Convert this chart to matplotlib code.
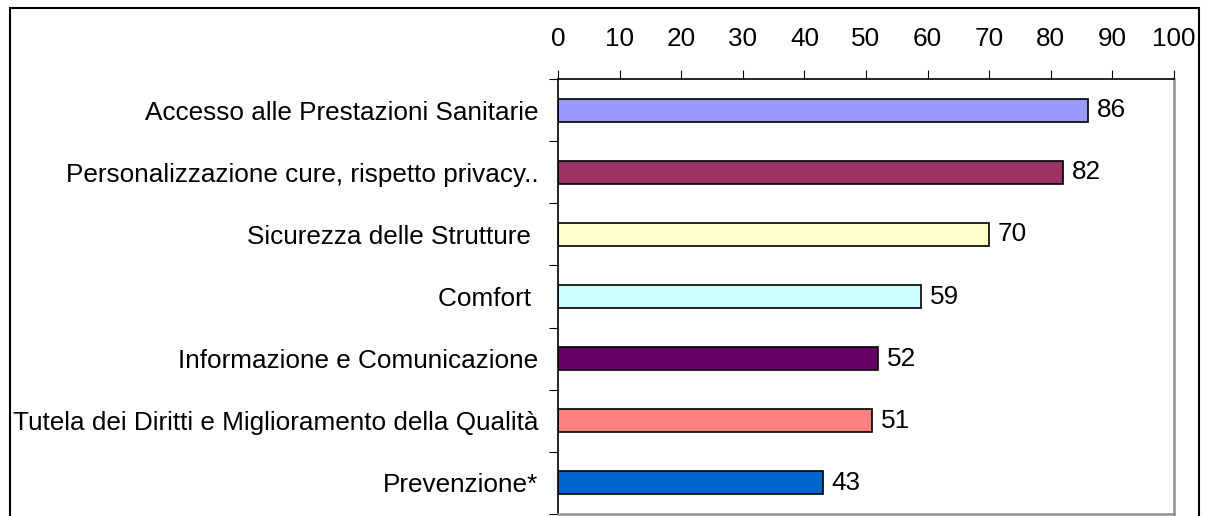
import matplotlib.pyplot as plt
from matplotlib.patches import Rectangle

categories = [
    "Accesso alle Prestazioni Sanitarie",
    "Personalizzazione cure, rispetto privacy..",
    "Sicurezza delle Strutture ",
    "Comfort ",
    "Informazione e Comunicazione",
    "Tutela dei Diritti e Miglioramento della Qualità",
    "Prevenzione*",
]
values = [86, 82, 70, 59, 52, 51, 43]
colors = ["#9999FF", "#993366", "#FFFFCC", "#CCFFFF", "#660066", "#FF8080", "#0066CC"]
xticks = list(range(0, 101, 10))

plt.rcParams['font.family'] = ['Liberation Sans', 'DejaVu Sans']
fs = 18.8

fig = plt.figure(figsize=(12.07, 5.16), dpi=100)
ax = fig.add_axes([558 / 1207, 1 - 514 / 516, (1174 - 558) / 1207, (514 - 79) / 516])

ypos = list(range(len(categories)))
ax.barh(ypos, values, height=0.37, color=colors, edgecolor='black', linewidth=1.2)
ax.set_ylim(len(categories) - 0.5, -0.5)
ax.set_xlim(0, 100)

for y, v in zip(ypos, values):
    ax.text(v + 1.4, y, str(v), va='center', ha='left', fontsize=fs)

# x axis on top
ax.xaxis.tick_top()
ax.set_xticks(xticks)
ax.set_xticklabels([str(t) for t in xticks], fontsize=fs)
ax.tick_params(axis='x', direction='out', length=6.5, width=0.8, pad=13.5)

# category ticks at the boundaries, labels centred on bars
ax.set_yticks([y + 0.5 for y in ypos[:-1]] + [-0.5, len(categories) - 0.5])
ax.set_yticklabels([])
ax.set_yticks(ypos, minor=True)
ax.set_yticklabels(categories, minor=True, fontsize=fs)
ax.tick_params(axis='y', which='major', direction='out', length=6.5, width=0.8)
ax.tick_params(axis='y', which='minor', length=0, pad=14)

for side in ['top', 'left']:
    ax.spines[side].set_color('black')
    ax.spines[side].set_linewidth(1.2)
for side in ['right', 'bottom']:
    ax.spines[side].set_color('#909090')
    ax.spines[side].set_linewidth(1.8)

# outer chart border
fig.add_artist(Rectangle((10 / 1207, -0.05), (1199 - 10) / 1207, 1.05 - 8 / 516,
                         transform=fig.transFigure, fill=False,
                         edgecolor='black', linewidth=1.5))

fig.savefig("out.png", dpi=100)
